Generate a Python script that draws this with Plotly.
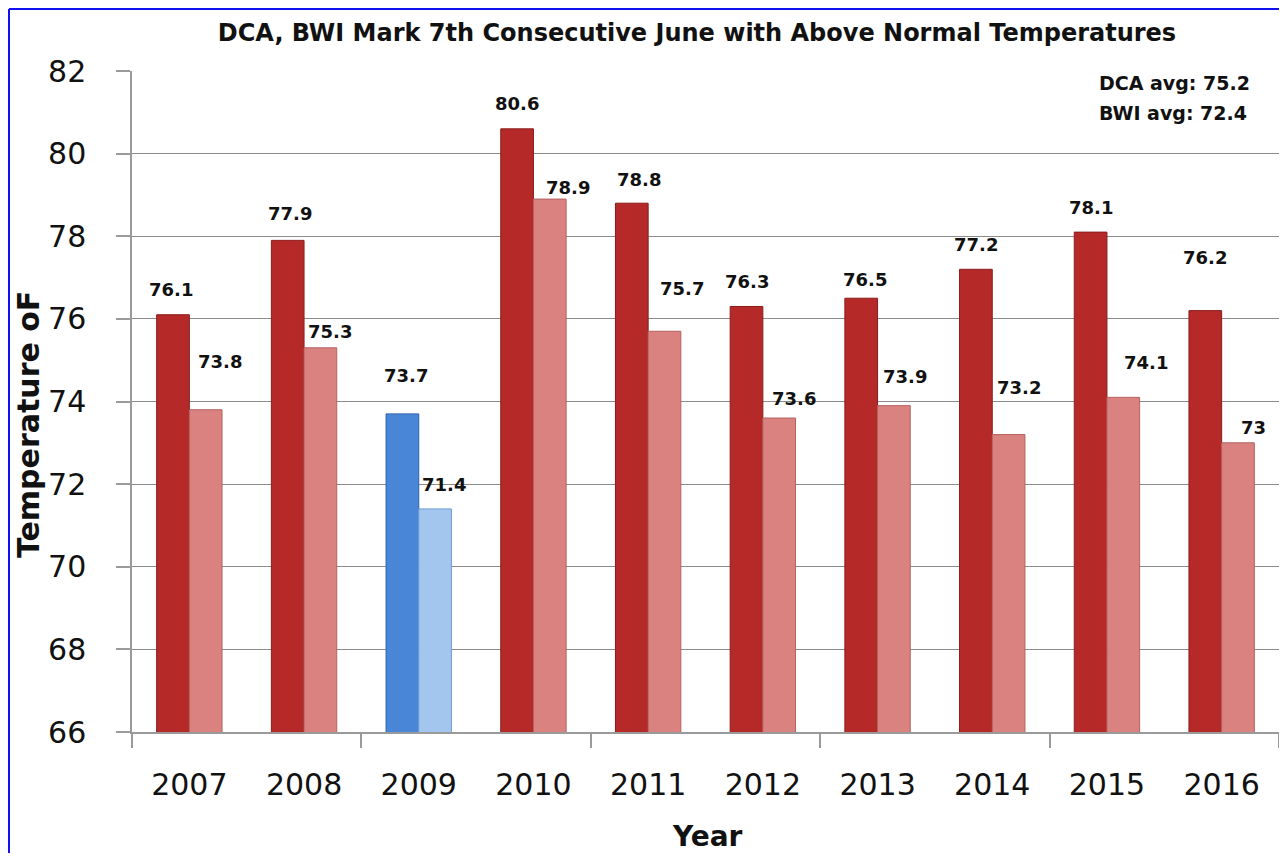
import plotly.graph_objects as go

# ---- data ----
years = [2007, 2008, 2009, 2010, 2011, 2012, 2013, 2014, 2015, 2016]
dca = [76.1, 77.9, 73.7, 80.6, 78.8, 76.3, 76.5, 77.2, 78.1, 76.2]
bwi = [73.8, 75.3, 71.4, 78.9, 75.7, 73.6, 73.9, 73.2, 74.1, 73.0]
y_ticks = [66, 68, 70, 72, 74, 76, 78, 80, 82]
title_text = "DCA, BWI Mark 7th Consecutive June with Above Normal Temperatures"
avg_lines = ["DCA avg: 75.2", "BWI avg: 72.4"]

# ---- styles ----
DCA_RED, BWI_PINK = "#B52A29", "#D98280"
DCA_BLUE, BWI_BLUE = "#4A86D8", "#A3C6EF"
dca_colors = [DCA_BLUE if y == 2009 else DCA_RED for y in years]
bwi_colors = [BWI_BLUE if y == 2009 else BWI_PINK for y in years]
dca_edge = ["#2F62A8" if y == 2009 else "#8A1C1B" for y in years]
bwi_edge = ["#6F9ED6" if y == 2009 else "#B56260" for y in years]

# label placement (pixels): vertical gap above bar top, horizontal nudge
dca_dy = [25, 27, 38, 25, 24, 25, 19, 25, 25, 53]
dca_dx = [-2, 2, 4, 0, 7, 0, 4, 0, 0, 0]
bwi_dy = [48, 16, 24, 12, 43, 20, 29, 47, 35, 15]
bwi_dx = [14, 10, 9, 18, 18, 15, 11, 10, 23, 16]

OFF = 8                      # page body margin
W, H = 1287 - 2 * OFF, 861 - 2 * OFF
ML, MT = 132 - OFF, 71 - OFF
MR = 0
PW, PH = W - ML - MR, 661
MB = H - MT - PH
BARGAP = 0.43
cat_px = PW / len(years)
half_bar = (1 - BARGAP) * cat_px / 4
x_lo, x_hi = years[0] - 0.5, years[-1] + 0.5
boundary_ticks = [years[0] - 0.5 + 2 * k for k in range(len(years) // 2 + 1)]

LABEL_FONT = dict(family="DejaVu Sans", size=18, color="#111111")

fig = go.Figure()
fig.add_trace(go.Bar(name="DCA", x=years, y=dca,
                     marker=dict(color=dca_colors, line=dict(color=dca_edge, width=1)),
                     hoverinfo="x+y"))
fig.add_trace(go.Bar(name="BWI", x=years, y=bwi,
                     marker=dict(color=bwi_colors, line=dict(color=bwi_edge, width=1)),
                     hoverinfo="x+y"))

annotations = []
for i, yr in enumerate(years):
    annotations.append(dict(x=yr, y=dca[i], xref="x", yref="y", text=f"<b>{dca[i]:g}</b>",
                            showarrow=False, xanchor="center", yanchor="middle",
                            xshift=-half_bar + dca_dx[i], yshift=dca_dy[i], font=LABEL_FONT))
    annotations.append(dict(x=yr, y=bwi[i], xref="x", yref="y", text=f"<b>{bwi[i]:g}</b>",
                            showarrow=False, xanchor="center", yanchor="middle",
                            xshift=half_bar + bwi_dx[i], yshift=bwi_dy[i], font=LABEL_FONT))

def px_x(p):
    return (p - OFF - ML) / PW

def px_y(p):
    return (MT + PH - (p - OFF)) / PH

# averages box
annotations.append(dict(x=px_x(1098), y=px_y(83), xref="paper", yref="paper",
                        text=f"<b>{avg_lines[0]}</b>", showarrow=False, xanchor="left",
                        yanchor="middle", align="left", width=184, height=26,
                        bgcolor="white", borderpad=0,
                        font=dict(family="DejaVu Sans", size=19, color="#111111")))
annotations.append(dict(x=px_x(1098), y=px_y(113), xref="paper", yref="paper",
                        text=f"<b>{avg_lines[1]}</b>", showarrow=False, xanchor="left",
                        yanchor="middle", align="left", width=184, height=26,
                        borderpad=0,
                        font=dict(family="DejaVu Sans", size=19, color="#111111")))
# axis titles
annotations.append(dict(x=px_x(28), y=px_y(425), xref="paper", yref="paper",
                        text="<b>Temperature oF</b>", textangle=-90, showarrow=False,
                        xanchor="center", yanchor="middle",
                        font=dict(family="DejaVu Sans", size=30, color="#111111")))
annotations.append(dict(x=px_x(707), y=px_y(836), xref="paper", yref="paper",
                        text="<b>Year</b>", showarrow=False,
                        xanchor="center", yanchor="middle",
                        font=dict(family="DejaVu Sans", size=28, color="#111111")))

BORDER = dict(color="#1010F0", width=2)
fig.update_layout(
    width=W, height=H,
    margin=dict(l=ML, r=MR, t=MT, b=MB, pad=0),
    paper_bgcolor="white", plot_bgcolor="white",
    barmode="group", bargap=BARGAP, bargroupgap=0,
    showlegend=False,
    title=dict(text=f"<b>{title_text}</b>", x=(697 - OFF) / W, y=1 - (33 - OFF) / H,
               xanchor="center", yanchor="middle", xref="container", yref="container",
               font=dict(family="DejaVu Sans", size=24, color="#111111")),
    xaxis=dict(type="linear", range=[x_lo, x_hi], tickvals=years,
               ticktext=[str(y) for y in years], showgrid=False, zeroline=False,
               ticks="", showline=True, linecolor="#9A9A9A", linewidth=1.5,
               minor=dict(tickvals=boundary_ticks, ticks="outside", ticklen=14,
                          tickwidth=1.5, tickcolor="#9A9A9A", showgrid=False),
               tickfont=dict(family="DejaVu Sans", size=30, color="#111111"),
               ticklabelstandoff=25, fixedrange=True),
    yaxis=dict(range=[y_ticks[0], y_ticks[-1]], tickvals=y_ticks, showgrid=True,
               gridcolor="#8C8C8C", gridwidth=1, zeroline=False,
               showline=True, linecolor="#9A9A9A", linewidth=1.5,
               ticks="outside", ticklen=14, tickwidth=1.5, tickcolor="#9A9A9A",
               tickfont=dict(family="DejaVu Sans", size=30, color="#111111"),
               ticklabelstandoff=24, fixedrange=True),
    annotations=annotations,
    shapes=[
        dict(type="line", xref="paper", yref="paper",
             x0=px_x(9), x1=px_x(9), y0=px_y(861 + 20), y1=px_y(OFF + 1),
             line=BORDER, layer="above"),
        dict(type="line", xref="paper", yref="paper",
             x0=px_x(9), x1=px_x(1287 + 20), y0=px_y(OFF + 1), y1=px_y(OFF + 1),
             line=BORDER, layer="above"),
    ],
)

fig.write_html("out.html")
